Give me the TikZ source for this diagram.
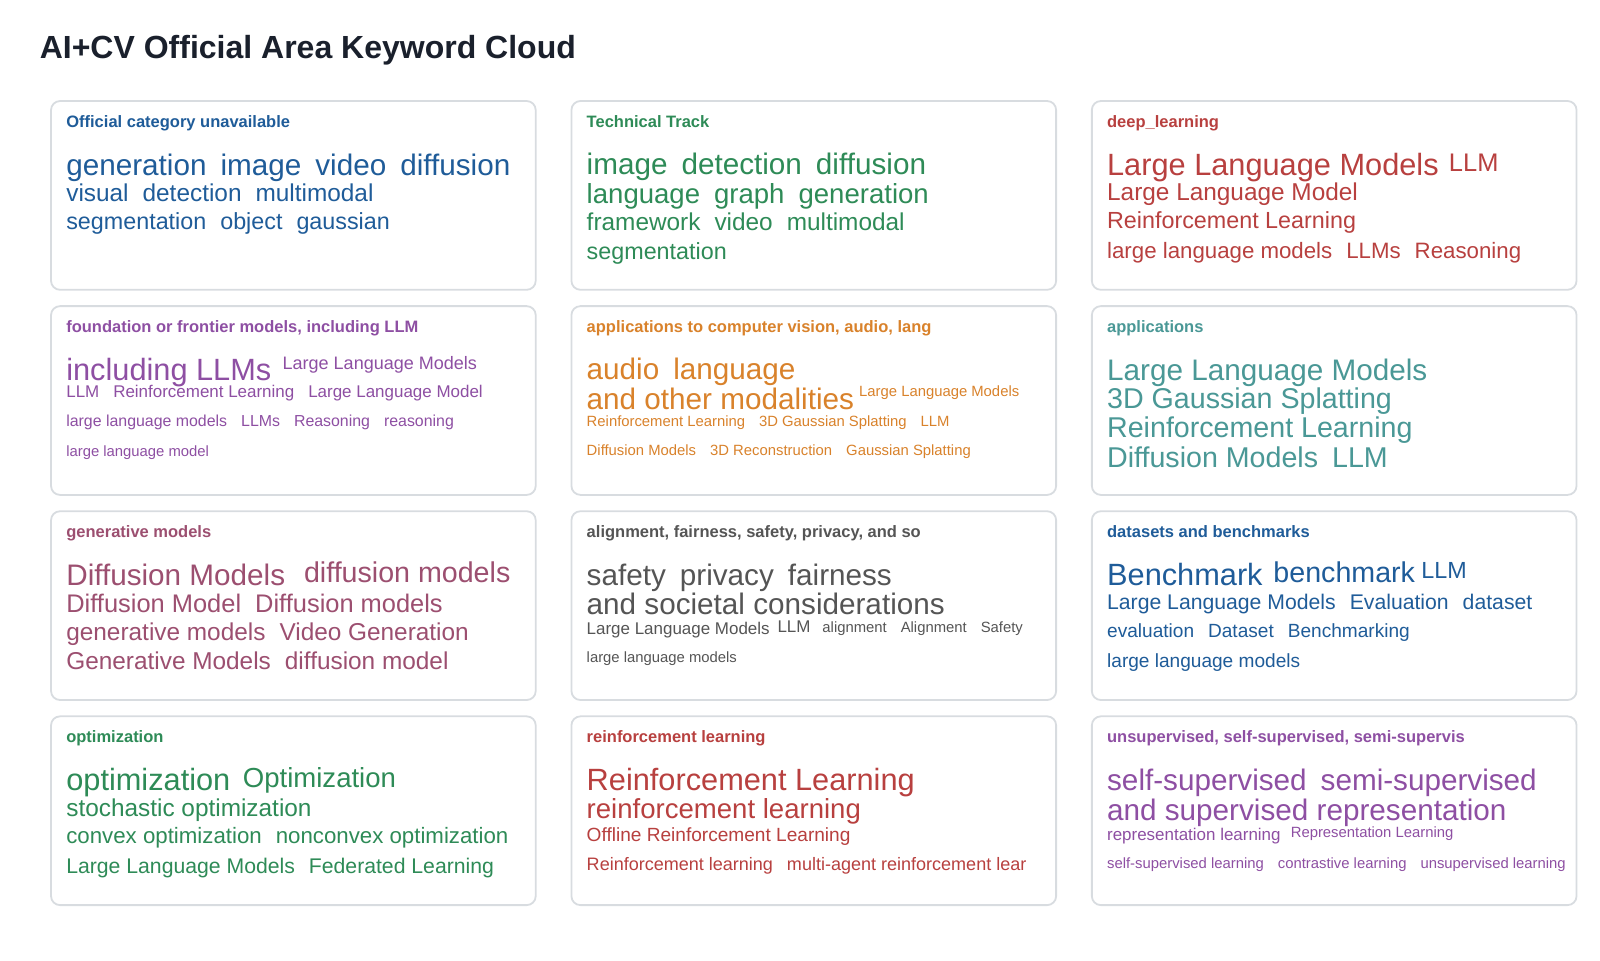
\documentclass[tikz,border=0pt]{standalone}
\usepackage{fontspec}
\setmainfont{Liberation Sans}
\definecolor{cblue}{HTML}{1F5C99}
\definecolor{cgreen}{HTML}{2E8B57}
\definecolor{cred}{HTML}{B8403F}
\definecolor{cpurple}{HTML}{8E4FA3}
\definecolor{corange}{HTML}{D9822B}
\definecolor{cteal}{HTML}{4A9896}
\definecolor{cpink}{HTML}{9C4F70}
\definecolor{cgray}{HTML}{555555}
\definecolor{ctitle}{HTML}{1A202C}
\definecolor{cborder}{HTML}{D8DCE0}
\newcounter{kw}
\newcommand\kw[5]{\stepcounter{kw}\pgfmathsetmacro\fsz{#3*1.06}\node[kwst,text=#5,font=\fontsize{\fsz}{\fsz}\selectfont] (kw\arabic{kw}) at (#1,#2) {#4};}
\newcommand\hd[4]{\stepcounter{kw}\node[kwst,text=#4,font=\fontsize{16.5}{16.5}\selectfont\bfseries] (kw\arabic{kw}) at (#1,#2) {#3};}
\newcommand\g{\hspace{14pt}}
\begin{document}
\begin{tikzpicture}[x=1.0204pt,y=-1.0204pt,
 kwst/.style={anchor=base west,inner sep=0pt,outer sep=0pt},
 card/.style={draw=cborder,line width=1.8pt,rounded corners=9pt,fill=white}]
\useasboundingbox (0,0) rectangle (1568,940.8);
\node[kwst,text=ctitle,font=\fontsize{32}{32}\selectfont\bfseries] (title) at (39,57) {AI+CV Official Area Keyword Cloud};
\foreach \cx in {50,560,1070}{\foreach \cy in {99,300,501,702}{
 \draw[card] (\cx,\cy) rectangle ++(475,185);}}
% card 1
\hd{65}{125}{Official category unavailable}{cblue}
\kw{65}{172}{28}{generation\g image\g video\g diffusion}{cblue}
\kw{65}{197}{23}{visual\g detection\g multimodal}{cblue}
\kw{65}{225}{22}{segmentation\g object\g gaussian}{cblue}
% card 2
\hd{575}{125}{Technical Track}{cgreen}
\kw{575}{171}{28}{image\g detection\g diffusion}{cgreen}
\kw{575}{199}{26}{language\g graph\g generation}{cgreen}
\kw{575}{226}{23}{framework\g video\g multimodal}{cgreen}
\kw{575}{254}{22}{segmentation}{cgreen}
% card 3
\hd{1085}{125}{deep\_learning}{cred}
\kw{1085}{172}{29}{Large Language Models}{cred}
\kw{1420}{168}{24}{LLM}{cred}
\kw{1085}{196}{23}{Large Language Model}{cred}
\kw{1085}{224}{22}{Reinforcement Learning}{cred}
\kw{1085}{253}{21}{large language models\g LLMs\g Reasoning}{cred}
% card 4
\hd{65}{326}{foundation or frontier models, including LLM}{cpurple}
\kw{65}{373}{29}{including LLMs}{cpurple}
\kw{277}{362}{17}{Large Language Models}{cpurple}
\kw{65}{390}{16}{LLM\g Reinforcement Learning\g Large Language Model}{cpurple}
\kw{65}{418}{15}{large language models\g LLMs\g Reasoning\g reasoning}{cpurple}
\kw{65}{447}{14}{large language model}{cpurple}
% card 5
\hd{575}{326}{applications to computer vision, audio, lang}{corange}
\kw{575}{372}{28}{audio\g language}{corange}
\kw{575}{401}{28}{and other modalities}{corange}
\kw{842}{389}{14}{Large Language Models}{corange}
\kw{575}{418}{14}{Reinforcement Learning\g 3D Gaussian Splatting\g LLM}{corange}
\kw{575}{446}{14}{Diffusion Models\g 3D Reconstruction\g Gaussian Splatting}{corange}
% card 6
\hd{1085}{326}{applications}{cteal}
\kw{1085}{373}{28}{Large Language Models}{cteal}
\kw{1085}{400}{27}{3D Gaussian Splatting}{cteal}
\kw{1085}{429}{27}{Reinforcement Learning}{cteal}
\kw{1085}{458}{27}{Diffusion Models\g LLM}{cteal}
% card 7
\hd{65}{527}{generative models}{cpink}
\kw{65}{574}{28}{Diffusion Models}{cpink}
\kw{298}{571}{27}{diffusion models}{cpink}
\kw{65}{600}{24}{Diffusion Model\g Diffusion models}{cpink}
\kw{65}{628}{23}{generative models\g Video Generation}{cpink}
\kw{65}{656}{23}{Generative Models\g diffusion model}{cpink}
% card 8
\hd{575}{527}{alignment, fairness, safety, privacy, and so}{cgray}
\kw{575}{574}{28}{safety\g privacy\g fairness}{cgray}
\kw{575}{602}{28}{and societal considerations}{cgray}
\kw{575}{622}{16}{Large Language Models}{cgray}
\kw{762}{620}{16}{LLM}{cgray}
\kw{806}{620}{14}{alignment\g Alignment\g Safety}{cgray}
\kw{575}{649}{14}{large language models}{cgray}
% card 9
\hd{1085}{527}{datasets and benchmarks}{cblue}
\kw{1085}{574}{29}{Benchmark}{cblue}
\kw{1248}{571}{27}{benchmark}{cblue}
\kw{1393}{567}{22}{LLM}{cblue}
\kw{1085}{597}{20}{Large Language Models\g Evaluation\g dataset}{cblue}
\kw{1085}{625}{18}{evaluation\g Dataset\g Benchmarking}{cblue}
\kw{1085}{654}{18}{large language models}{cblue}
% card 10
\hd{65}{728}{optimization}{cgreen}
\kw{65}{775}{29}{optimization}{cgreen}
\kw{238}{772}{26}{Optimization}{cgreen}
\kw{65}{800}{23}{stochastic optimization}{cgreen}
\kw{65}{827}{21}{convex optimization\g nonconvex optimization}{cgreen}
\kw{65}{856}{20}{Large Language Models\g Federated Learning}{cgreen}
% card 11
\hd{575}{728}{reinforcement learning}{cred}
\kw{575}{775}{29}{Reinforcement Learning}{cred}
\kw{575}{802}{26}{reinforcement learning}{cred}
\kw{575}{825}{18}{Offline Reinforcement Learning}{cred}
\kw{575}{853}{17}{Reinforcement learning\g multi-agent reinforcement lear}{cred}
% card 12
\hd{1085}{728}{unsupervised, self-supervised, semi-supervis}{cpurple}
\kw{1085}{775}{28}{self-supervised\g semi-supervised}{cpurple}
\kw{1085}{804}{28}{and supervised representation}{cpurple}
\kw{1085}{824}{16}{representation learning}{cpurple}
\kw{1265}{821}{14}{Representation Learning}{cpurple}
\kw{1085}{851}{14}{self-supervised learning\g contrastive learning\g unsupervised learning}{cpurple}
\end{tikzpicture}
\end{document}
